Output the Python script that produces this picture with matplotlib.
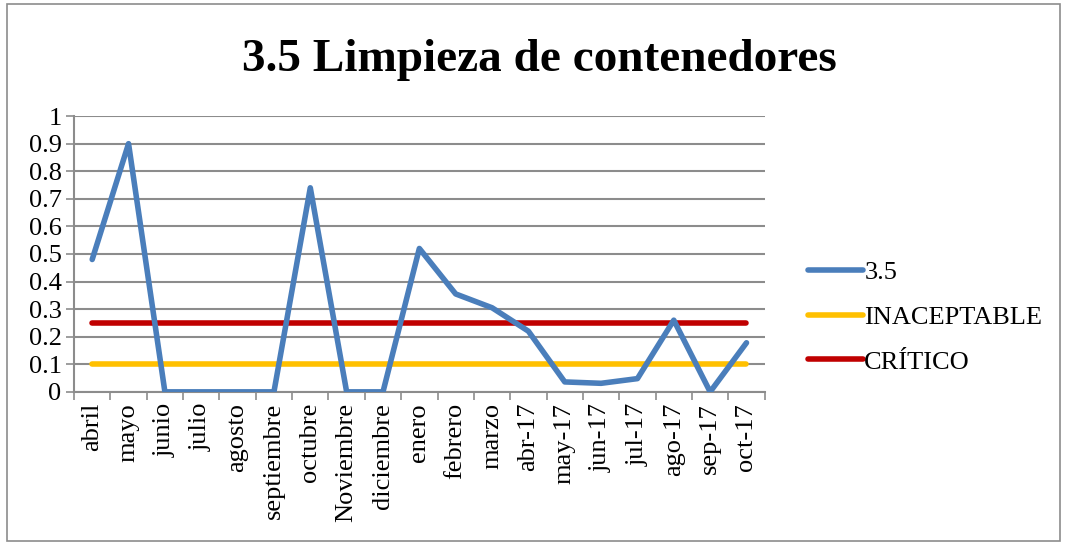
import matplotlib
matplotlib.use("Agg")
import matplotlib.pyplot as plt
from matplotlib.patches import Rectangle
import numpy as np

plt.rcParams['font.family'] = ['Liberation Serif', 'DejaVu Serif']

# data
months = ['abril', 'mayo', 'junio', 'julio', 'agosto', 'septiembre', 'octubre',
          'Noviembre', 'diciembre', 'enero', 'febrero', 'marzo', 'abr-17',
          'may-17', 'jun-17', 'jul-17', 'ago-17', 'sep-17', 'oct-17']
serie_35 = [0.48, 0.90, 0, 0, 0, 0, 0.74, 0, 0, 0.52, 0.355, 0.305, 0.22,
            0.036, 0.031, 0.048, 0.26, 0, 0.178]
inaceptable = [0.1] * len(months)
critico = [0.25] * len(months)

fig = plt.figure(figsize=(10.65, 5.45), dpi=100)
ax = fig.add_axes([0.0695, 0.281, 0.6485, 0.506])

# chart area border
fig.patches.append(Rectangle((0.007, 0.008), 0.988, 0.984, transform=fig.transFigure,
                             fill=False, edgecolor='#8c8c8c', linewidth=1.2))

x = np.arange(len(months))
ax.plot(x, serie_35, color='#4A7EBB', lw=4, solid_capstyle='round',
        solid_joinstyle='round', label='3.5', zorder=4)
ax.plot(x, inaceptable, color='#FFC000', lw=4, solid_capstyle='round',
        label='INACEPTABLE', zorder=3)
ax.plot(x, critico, color='#C00000', lw=4, solid_capstyle='round',
        label='CRÍTICO', zorder=3)

ax.set_xlim(-0.5, len(months) - 0.5)
ax.set_ylim(0, 1)
ax.set_yticks(np.arange(0, 1.01, 0.1))
ax.set_yticklabels(['0', '0.1', '0.2', '0.3', '0.4', '0.5', '0.6', '0.7', '0.8', '0.9', '1'])
ax.yaxis.grid(True, color='#8c8c8c', lw=1.5)
ax.set_axisbelow(True)

# tick marks between categories, labels centred on them
ax.set_xticks(np.arange(-0.5, len(months), 1.0))
ax.set_xticklabels([])
ax.set_xticks(x, minor=True)
ax.set_xticklabels(months, minor=True, rotation=90)
ax.tick_params(axis='x', which='minor', length=0, labelsize=19, pad=8)
ax.tick_params(axis='x', which='major', length=6, width=1.2, color='#8c8c8c')
ax.tick_params(axis='y', length=6, width=1.2, color='#8c8c8c', labelsize=19, pad=3)

for s in ['top', 'right']:
    ax.spines[s].set_visible(False)
for s in ['left', 'bottom']:
    ax.spines[s].set_color('#8c8c8c')
    ax.spines[s].set_linewidth(1.5)

fig.text(0.506, 0.89, '3.5 Limpieza de contenedores', ha='center', va='center',
         fontsize=34, fontweight='bold')

leg = fig.legend(loc='center left', bbox_to_anchor=(0.736, 0.418), frameon=False,
                 fontsize=19, handlelength=2.1, handletextpad=0.05, labelspacing=0.8)

fig.savefig('out.png', dpi=100)
